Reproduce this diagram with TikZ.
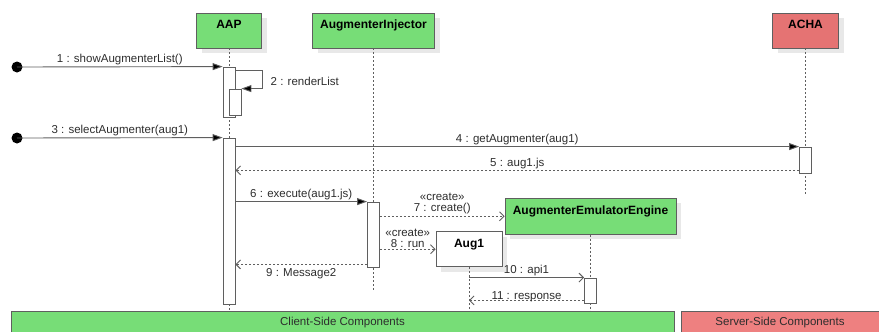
\documentclass[tikz,border=0pt]{standalone}
\usepackage{fontspec}
\setmainfont{Liberation Sans}
\usetikzlibrary{arrows.meta,shadows}
\definecolor{compgreen}{RGB}{119,221,119}
\definecolor{compred}{RGB}{229,115,115}
\definecolor{barred}{RGB}{238,128,128}
\definecolor{edgegray}{RGB}{95,95,95}
\definecolor{labelgray}{RGB}{45,45,45}

\tikzset{
  head/.style={draw=edgegray, line width=0.8pt, minimum height=35pt, inner sep=0pt,
    text height=8pt, text depth=12pt, font=\bfseries\fontsize{12}{14}\selectfont,
    drop shadow={shadow xshift=5pt, shadow yshift=-5pt, fill=black!9, opacity=1}},
  activation/.style={draw=edgegray, fill=white, line width=0.8pt, minimum width=12pt, inner sep=0pt},
  lifeline/.style={draw=edgegray, line width=0.7pt, dash pattern=on 2pt off 2pt},
  startdot/.style={circle, fill=black, minimum size=11pt, inner sep=0pt},
  call/.style={draw=edgegray, line width=0.9pt, -{Triangle[length=10pt,width=7pt,fill=black]}},
  async/.style={draw=edgegray, line width=0.9pt, -{Straight Barb[length=4.5pt,width=9pt]}},
  reply/.style={draw=edgegray, line width=0.9pt, dash pattern=on 2pt off 2pt, -{Straight Barb[length=4.5pt,width=9pt]}},
  msglabel/.style={text=labelgray, font=\fontsize{11.5}{12}\selectfont, inner sep=1.5pt},
  bar/.style={draw=edgegray, line width=0.8pt, minimum height=23.4pt, inner sep=0pt,
    text=labelgray, font=\fontsize{11.5}{13}\selectfont}
}

\begin{document}
\begin{tikzpicture}[x=1pt, y=-1pt]
    \useasboundingbox (0,0) rectangle (879,332);

    % Головы линий жизни
    \node[head, fill=compgreen, minimum width=65pt] (aap) at (229,30.5) {AAP};
    \node[head, fill=compgreen, minimum width=122pt] (injector) at (373.5,30.5) {AugmenterInjector};
    \node[head, fill=compred, minimum width=66pt] (acha) at (805.5,30.5) {ACHA};
    \node[head, fill=compgreen, minimum width=171pt, minimum height=36pt] (engine) at (590.5,216.3) {AugmenterEmulatorEngine};
    \node[head, fill=white, minimum width=66pt] (aug) at (469,249.2) {Aug1};

    % Линии жизни
    \draw[lifeline] (aap.south) -- ++(0,262);
    \draw[lifeline] (injector.south) -- ++(0,243);
    \draw[lifeline] (acha.south) -- ++(0,146);
    \draw[lifeline] (engine.south) -- ++(0,77);
    \draw[lifeline] (aug.south) -- ++(0,45);

    % Активации
    \node[activation, minimum height=50pt] (aapA) at (229,92) {};
    \node[activation, minimum height=26pt] (aapB) at (235,102) {};
    \node[activation, minimum height=166pt] (aapC) at (229,221) {};
    \node[activation, minimum height=26pt] (achaA) at (805.5,160) {};
    \node[activation, minimum height=65pt] (injA) at (373.5,234.5) {};
    \node[activation, minimum height=25pt] (engA) at (590.5,290.5) {};

    % точки возврата
    \coordinate (ret5) at ([yshift=3pt]achaA.south west);
    \coordinate (ret9) at ([yshift=3pt]injA.south west);
    \coordinate (ret11) at ([yshift=3pt]engA.south west);

    % Сообщения
    \node[startdot] (dot1) at (17,67) {};
    \draw[call] (dot1.center) -- node[msglabel, above] {1 : showAugmenterList()} (aapA.north west);

    \draw[call] ([yshift=-4pt]aapA.north east) -- ++(27,0) |- (aapB.north east);
    \node[msglabel, anchor=west] (lbl2) at (269,81) {2 : renderList};

    \node[startdot] (dot2) at (17,138) {};
    \draw[call] (dot2.center) -- node[msglabel, above] {3 : selectAugmenter(aug1)} (aapC.north west);

    \draw[call] (aapC.east |- achaA.north) -- node[msglabel, above] {4 : getAugmenter(aug1)} (achaA.north west);
    \draw[reply] (ret5) -- node[msglabel, above] {5 : aug1.js} (aapC.east |- ret5);

    \draw[call] (aapC.east |- injA.north) -- node[msglabel, above] {6 : execute(aug1.js)} (injA.north west);
    \draw[reply] (injA.east |- engine.west) -- node[msglabel, above, align=center, font=\fontsize{11.5}{11}\selectfont] {«create»\\7 : create()} (engine.west);
    \draw[reply] (injA.east |- aug.west) -- node[msglabel, above, align=center, font=\fontsize{11.5}{11}\selectfont] {«create»\\8 : run} (aug.west);
    \draw[reply] (ret9) -- node[msglabel, below, yshift=-2pt] {9 : Message2} (aapC.east |- ret9);

    \draw[async] (aug.south |- engA.north) -- node[msglabel, above] {10 : api1} (engA.north west);
    \draw[reply] (ret11) -- node[msglabel, yshift=4pt] {11 : response} (aug.south |- ret11);

    % Нижние полосы
    \node[bar, fill=compgreen, minimum width=663pt] (client) at (342.5,322.7) {Client-Side Components};
    \node[bar, fill=barred, minimum width=198pt] (server) at (780,322.7) {Server-Side Components};
\end{tikzpicture}
\end{document}
